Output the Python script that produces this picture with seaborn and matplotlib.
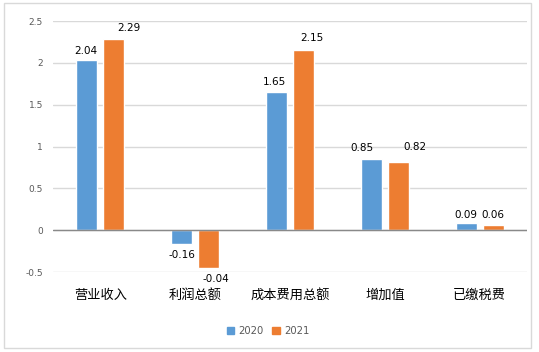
import pandas as pd
import matplotlib
matplotlib.use('Agg')
import matplotlib.pyplot as plt
from matplotlib.patches import Rectangle
from matplotlib.ticker import FuncFormatter
import seaborn as sns

sns.set_theme(style='white')
plt.rcParams['font.family'] = ['DejaVu Sans', 'Noto Sans CJK SC']

# data
categories = ['营业收入', '利润总额', '成本费用总额', '增加值', '已缴税费']
years = ['2020', '2021']
values_2020 = [2.04, -0.16, 1.65, 0.85, 0.09]
values_2021 = [2.29, -0.45, 2.15, 0.82, 0.06]
labels_2020 = ['2.04', '-0.16', '1.65', '0.85', '0.09']
labels_2021 = ['2.29', '-0.04', '2.15', '0.82', '0.06']

df = pd.DataFrame({
    'cat': categories * 2,
    'year': [years[0]] * 5 + [years[1]] * 5,
    'val': values_2020 + values_2021,
})

colors = {'2020': '#5B9BD5', '2021': '#ED7D31'}

fig = plt.figure(figsize=(5.39, 3.52), dpi=100)
ax = fig.add_axes([0.098, 0.227, 0.880, 0.713])

sns.barplot(data=df, x='cat', y='val', hue='year', palette=colors,
            width=0.57, gap=0.22, saturation=1, ax=ax, legend=False,
            zorder=3)

ax.set_ylim(-0.5, 2.5)
ax.set_yticks([-0.5, 0, 0.5, 1, 1.5, 2, 2.5])
ax.yaxis.set_major_formatter(FuncFormatter(lambda v, p: f'{v:g}'))
ax.grid(axis='y', color='#D9D9D9', linewidth=1, zorder=0)
ax.axhline(0, color='#898989', linewidth=1, zorder=4)
for s in ax.spines.values():
    s.set_visible(False)
ax.set_xlabel('')
ax.set_ylabel('')
ax.tick_params(axis='y', length=0, pad=7, labelsize=6.5, labelcolor='#595959')
ax.tick_params(axis='x', length=0, pad=12, labelsize=9.5, labelcolor='black')
for t in ax.get_xticklabels():
    t.set_fontfamily('Noto Sans CJK SC')

# label nudges (pixels: dx, gap from bar end), as placed in the original
nudge_2020 = [(-1, 4), (0, 6), (-2, 5), (-9, 6), (0, 3)]
nudge_2021 = [(15, 6), (7, 6), (8, 7), (17, 10), (0, 5)]

for cont, labs, nudges in zip(ax.containers, [labels_2020, labels_2021],
                              [nudge_2020, nudge_2021]):
    for bar, lab, (dx, gap) in zip(cont, labs, nudges):
        h = bar.get_height()
        x = bar.get_x() + bar.get_width() / 2
        sign = 1 if h >= 0 else -1
        ax.annotate(lab, (x, h), xytext=(dx * 0.72, sign * gap * 0.72),
                    textcoords='offset points', ha='center',
                    va='bottom' if h >= 0 else 'top',
                    fontsize=7.5, color='black')

handles = [Rectangle((0, 0), 1, 1, color=colors[y]) for y in years]
fig.legend(handles, years, loc='center', bbox_to_anchor=(0.497, 0.06), ncol=2,
           frameon=False, fontsize=7.2, handlelength=0.75, handleheight=0.75,
           columnspacing=0.9, handletextpad=0.4, labelcolor='#595959')

fig.patches.append(Rectangle((0.008, 0.011), 0.977, 0.98, transform=fig.transFigure,
                             fill=False, edgecolor='#D9D9D9', linewidth=1))

fig.savefig('out.png', dpi=100)
